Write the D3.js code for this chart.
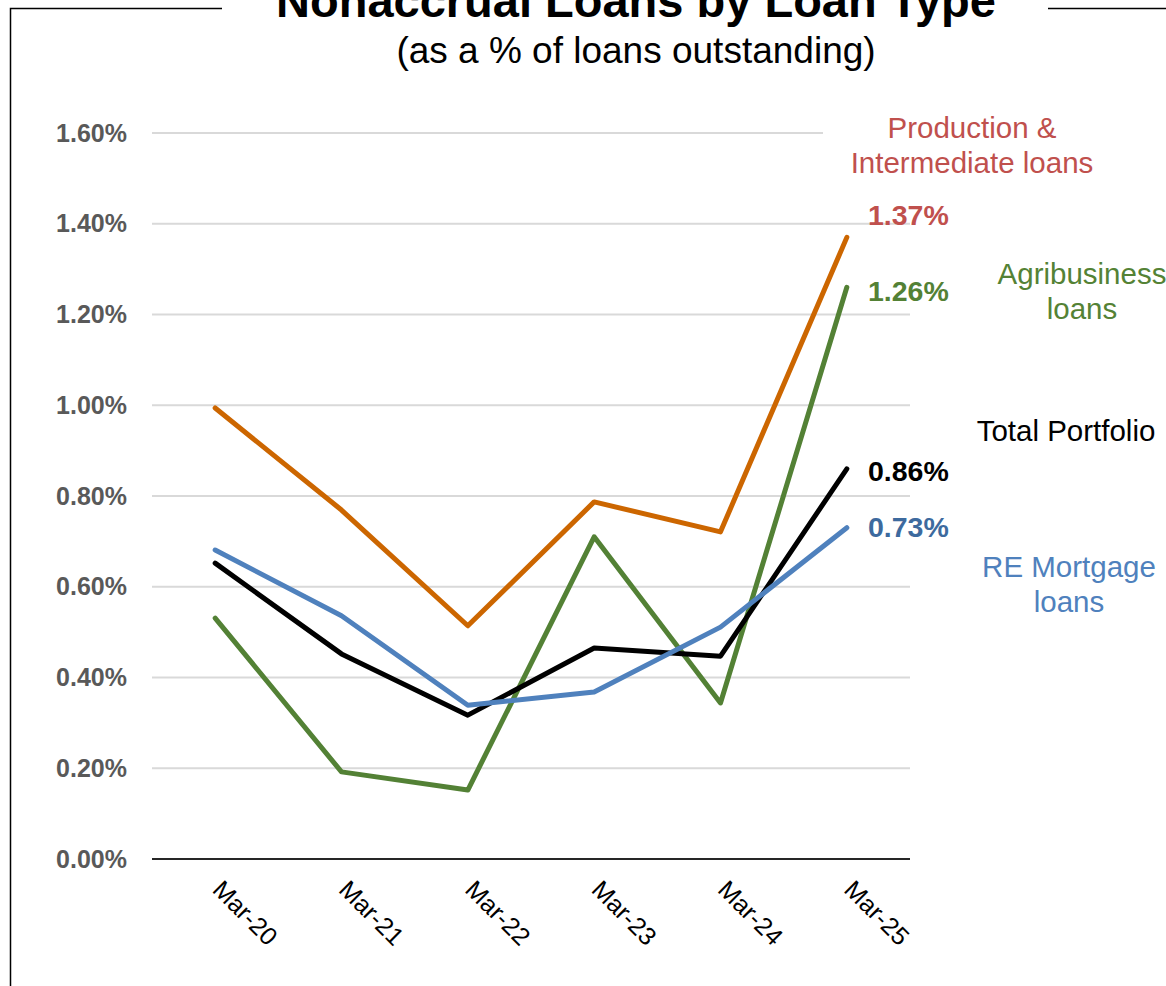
<!DOCTYPE html>
<html>
<head>
<meta charset="utf-8">
<script src="https://cdn.jsdelivr.net/npm/d3@7"></script>
<style>
  html, body { margin: 0; padding: 0; background: #fff; }
  svg { display: block; font-family: "Liberation Sans", Arial, sans-serif; }
</style>
</head>
<body>
<svg id="chart" width="1166" height="986"></svg>
<script>
// Periods and nonaccrual ratios (% of loans outstanding)
const periods = ["Mar-20", "Mar-21", "Mar-22", "Mar-23", "Mar-24", "Mar-25"];
const productionLoans = [0.994, 0.769, 0.514, 0.787, 0.721, 1.37];
const agribusinessLoans = [0.531, 0.192, 0.152, 0.710, 0.344, 1.26];
const totalPortfolio = [0.652, 0.452, 0.317, 0.465, 0.447, 0.86];
const reMortgageLoans = [0.681, 0.536, 0.339, 0.368, 0.511, 0.73];
const yTicks = [0, 0.2, 0.4, 0.6, 0.8, 1.0, 1.2, 1.4, 1.6];

const series = [
  { name: ["Production &", "Intermediate loans"], values: productionLoans, line: "#cc6600",
    labelColor: "#c0504d", valueColor: "#c0504d", valueDy: -22, nameX: 972, nameY: 128 },
  { name: ["Agribusiness", "loans"], values: agribusinessLoans, line: "#538135",
    labelColor: "#548235", valueColor: "#538135", valueDy: 4, nameX: 1082, nameY: 274 },
  { name: ["Total Portfolio"], values: totalPortfolio, line: "#000000",
    labelColor: "#000000", valueColor: "#000000", valueDy: 2, nameX: 1066, nameY: 431 },
  { name: ["RE Mortgage", "loans"], values: reMortgageLoans, line: "#4f81bd",
    labelColor: "#4f81bd", valueColor: "#3d6a9e", valueDy: -1, nameX: 1069, nameY: 567 }
];

const svg = d3.select("#chart");
const plot = { left: 152, right: 910, top: 133, bottom: 859 };

const x = d3.scaleBand().domain(periods).range([plot.left, plot.right]);
const y = d3.scaleLinear().domain([0, 1.6]).range([plot.bottom, plot.top]);
const xc = d => x(d) + x.bandwidth() / 2;

// Outer frame, broken around the title
const frame = svg.append("g").attr("stroke", "#000").attr("stroke-width", 1.5).attr("fill", "none");
frame.append("path").attr("d", "M222,8.5 H10.5 V986");
frame.append("path").attr("d", "M1048,8.5 H1166");

// Title
svg.append("text").attr("x", 636).attr("y", 17).attr("text-anchor", "middle")
  .attr("font-size", 47).attr("font-weight", "bold").attr("fill", "#000")
  .text("Nonaccrual Loans by Loan Type");
svg.append("text").attr("x", 636).attr("y", 63).attr("text-anchor", "middle")
  .attr("font-size", 37).attr("fill", "#000")
  .text("(as a % of loans outstanding)");

// Gridlines
svg.append("g").selectAll("line").data(yTicks.filter(t => t > 0)).join("line")
  .attr("x1", plot.left).attr("x2", plot.right)
  .attr("y1", d => y(d)).attr("y2", d => y(d))
  .attr("stroke", "#d9d9d9").attr("stroke-width", 2);

// Y axis tick labels
const yAxis = d3.axisLeft(y).tickValues(yTicks).tickSize(0).tickPadding(25)
  .tickFormat(d => d3.format(".2f")(d) + "%");
const gy = svg.append("g").attr("transform", `translate(${plot.left},0)`).call(yAxis);
gy.select(".domain").remove();
gy.selectAll("text").attr("font-family", "Liberation Sans, Arial, sans-serif")
  .attr("font-size", 25).attr("font-weight", "bold").attr("fill", "#595959");

// X axis
const xAxis = d3.axisBottom(x).tickSize(0).tickPadding(0);
const gx = svg.append("g").attr("transform", `translate(0,${plot.bottom})`).call(xAxis);
gx.select(".domain").attr("stroke", "#262626").attr("stroke-width", 2)
  .attr("d", `M${plot.left},0H${plot.right}`);
gx.selectAll("text").attr("font-family", "Liberation Sans, Arial, sans-serif")
  .attr("font-size", 25).attr("fill", "#000")
  .attr("text-anchor", "start").attr("dy", null)
  .attr("transform", "translate(-4,32) rotate(45)");

// White box behind the top legend label
svg.append("rect").attr("x", 823).attr("y", 108).attr("width", 300).attr("height", 72).attr("fill", "#fff");

// Lines
const line = d3.line().x((d, i) => xc(periods[i])).y(d => y(d));
svg.append("g").selectAll("path").data(series).join("path")
  .attr("d", s => line(s.values))
  .attr("fill", "none").attr("stroke", s => s.line).attr("stroke-width", 5)
  .attr("stroke-linejoin", "round").attr("stroke-linecap", "round");

// End-value labels
const last = periods.length - 1;
svg.append("g").selectAll("text").data(series).join("text")
  .attr("x", 868).attr("y", s => y(s.values[last]) + s.valueDy)
  .attr("dy", "0.35em")
  .attr("font-size", 28.5).attr("font-weight", "bold").attr("fill", s => s.valueColor)
  .text(s => d3.format(".2f")(s.values[last]) + "%");

// Series names
series.forEach(s => {
  const t = svg.append("text").attr("text-anchor", "middle").attr("font-size", 29.5)
    .attr("fill", s.labelColor);
  s.name.forEach((ln, i) => {
    t.append("tspan").attr("x", s.nameX).attr("y", s.nameY + i * 35).attr("dy", "0.35em").text(ln);
  });
});
</script>
</body>
</html>
